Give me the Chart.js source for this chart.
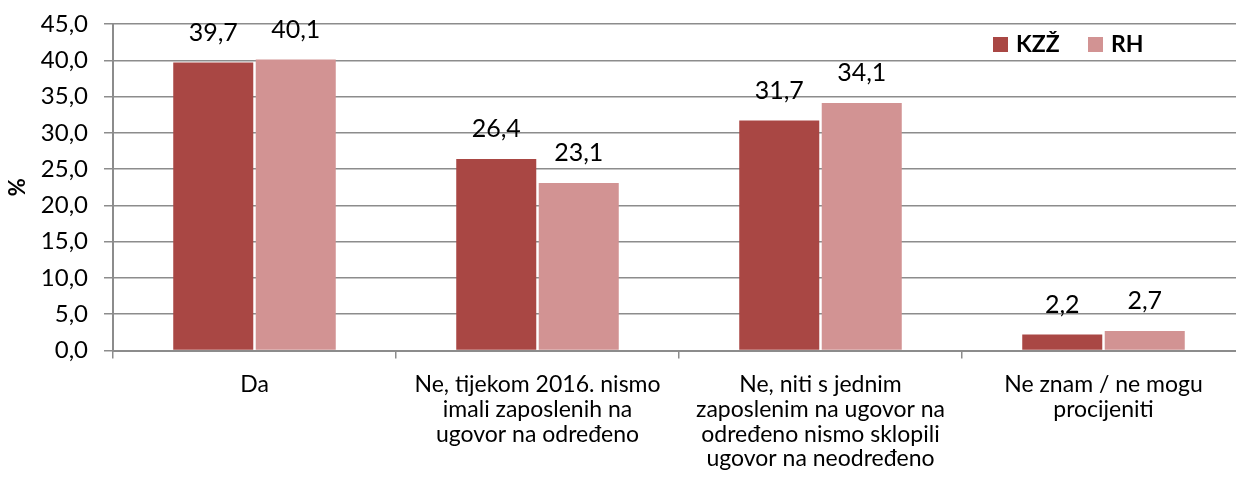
<!DOCTYPE html>
<html>
<head>
<meta charset="utf-8">
<script src="https://cdn.jsdelivr.net/npm/chart.js@4/dist/chart.umd.min.js"></script>
<style>
  html, body { margin: 0; padding: 0; background: #fff; overflow: hidden; }
  #wrap { position: relative; width: 1250px; height: 494px; }
</style>
</head>
<body>
<div id="wrap"><canvas id="chart"></canvas></div>
<script>
// Data
const categories = [
  ['Da'],
  ['Ne, tijekom 2016. nismo', 'imali zaposlenih na', 'ugovor na određeno'],
  ['Ne, niti s jednim', 'zaposlenim na ugovor na', 'određeno nismo sklopili', 'ugovor na neodređeno'],
  ['Ne znam / ne mogu', 'procijeniti']
];
const kzzValues = [39.7, 26.4, 31.7, 2.2];
const rhValues = [40.1, 23.1, 34.1, 2.7];
const seriesNames = ['KZŽ', 'RH'];
const yMax = 45;
const yStep = 5;

const FONT = 'Lato, "Open Sans", sans-serif';
const GRID = '#8c8c8c';

function fmt(v) {
  return v.toFixed(1).replace('.', ',');
}

// Value labels above each bar
const barLabels = {
  id: 'barLabels',
  afterDatasetsDraw(chart) {
    const ctx = chart.ctx;
    ctx.save();
    ctx.font = '25px ' + FONT;
    ctx.fillStyle = '#000';
    ctx.textAlign = 'center';
    ctx.textBaseline = 'middle';
    chart.data.datasets.forEach((ds, i) => {
      chart.getDatasetMeta(i).data.forEach((bar, j) => {
        ctx.fillText(fmt(ds.data[j]), bar.x, bar.y - 30);
      });
    });
    ctx.restore();
  }
};

// Legend in the top right corner of the plot
const cornerLegend = {
  id: 'cornerLegend',
  afterDraw(chart) {
    const ctx = chart.ctx;
    ctx.save();
    ctx.font = 'bold 23px ' + FONT;
    ctx.textBaseline = 'middle';
    let x = 993;
    const y = 37;
    chart.data.datasets.forEach(ds => {
      ctx.fillStyle = ds.backgroundColor;
      ctx.fillRect(x, y, 15, 15);
      ctx.fillStyle = '#000';
      ctx.fillText(ds.label, x + 23, y + 8);
      x += 95;
    });
    ctx.restore();
  }
};

const ctx = document.getElementById('chart').getContext('2d');
new Chart(ctx, {
  type: 'bar',
  data: {
    labels: categories,
    datasets: [
      { label: seriesNames[0], data: kzzValues, backgroundColor: '#a94744' },
      { label: seriesNames[1], data: rhValues, backgroundColor: '#d29393' }
    ]
  },
  options: {
    responsive: true,
    maintainAspectRatio: false,
    animation: false,
    layout: { padding: { top: 24, right: 5, bottom: 0, left: 0 } },
    categoryPercentage: 0.583,
    barPercentage: 0.97,
    plugins: {
      legend: { display: false },
      tooltip: { enabled: false }
    },
    scales: {
      x: {
        grid: { offset: true, drawOnChartArea: false, drawTicks: true, tickLength: 8, color: GRID, lineWidth: 1.5 },
        border: { color: GRID, width: 2 },
        ticks: { font: { family: FONT, size: 23, lineHeight: '24.7px' }, color: '#000', padding: 14, maxRotation: 0, autoSkip: false },
        afterFit(scale) { scale.height = 143.5; }
      },
      y: {
        min: 0,
        max: yMax,
        ticks: {
          stepSize: yStep,
          font: { family: FONT, size: 24 },
          color: '#000',
          padding: 16,
          callback: v => fmt(v)
        },
        grid: { color: GRID, lineWidth: 1.5, tickLength: 9 },
        border: { color: GRID, width: 2 },
        title: { display: true, text: '%', font: { family: FONT, size: 22, weight: 'bold' }, color: '#000', padding: { top: 5, bottom: 0 } },
        afterFit(scale) {
          scale.width = 113;
          scale.paddingTop = 0;
          scale.paddingBottom = 0;
        }
      }
    }
  },
  plugins: [barLabels, cornerLegend]
});
</script>
</body>
</html>
